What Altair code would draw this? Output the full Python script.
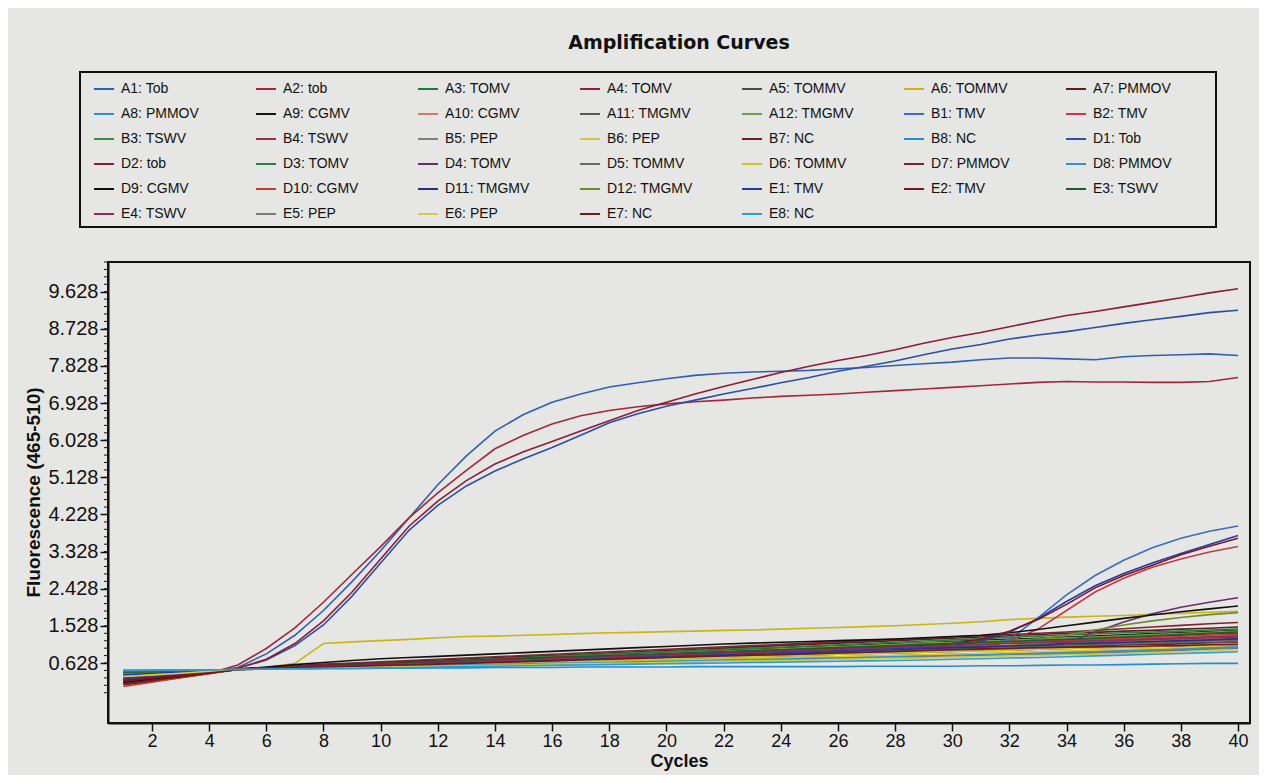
import altair as alt
import pandas as pd

cycles = list(range(1, 41))

series_names = [
    "A1: Tob", "A2: tob", "A3: TOMV", "A4: TOMV", "A5: TOMMV", "A6: TOMMV", "A7: PMMOV",
    "A8: PMMOV", "A9: CGMV", "A10: CGMV", "A11: TMGMV", "A12: TMGMV", "B1: TMV", "B2: TMV",
    "B3: TSWV", "B4: TSWV", "B5: PEP", "B6: PEP", "B7: NC", "B8: NC", "D1: Tob",
    "D2: tob", "D3: TOMV", "D4: TOMV", "D5: TOMMV", "D6: TOMMV", "D7: PMMOV", "D8: PMMOV",
    "D9: CGMV", "D10: CGMV", "D11: TMGMV", "D12: TMGMV", "E1: TMV", "E2: TMV", "E3: TSWV",
    "E4: TSWV", "E5: PEP", "E6: PEP", "E7: NC", "E8: NC",
]

series_colors = [
    "#2f5fb3", "#a3263a", "#1f7a3c", "#8e1f4c", "#4a4a4a", "#c9b514", "#5b1e1e",
    "#2c8fd0", "#151515", "#d27a6a", "#5a5a5a", "#7d9a3c", "#3b6cc0", "#c43848",
    "#3c8c4c", "#9c2d4e", "#808080", "#d6c43a", "#6e1c2c", "#1f8fcf", "#2c4ea6",
    "#8e1c36", "#2a7d3e", "#6b2c6e", "#686868", "#cbc22a", "#7d2433", "#2f95cc",
    "#101010", "#b9402c", "#2b2d7d", "#6c8b2c", "#1e3ea6", "#7c1424", "#1d5c2c",
    "#8c2c5e", "#7a7a7a", "#d3cb44", "#6c1c1c", "#2a9fd6",
]

A1 = [0.35,0.30,0.33,0.40,0.52,0.85,1.30,1.90,2.60,3.35,4.15,4.95,5.65,6.25,6.65,6.95,7.15,7.32,7.42,7.52,
      7.60,7.65,7.68,7.70,7.72,7.76,7.79,7.84,7.88,7.92,7.98,8.02,8.02,8.00,7.98,8.05,8.08,8.10,8.12,8.08]
A2 = [0.18,0.20,0.28,0.38,0.58,0.98,1.48,2.10,2.78,3.45,4.15,4.75,5.30,5.82,6.15,6.42,6.62,6.75,6.84,6.91,
      6.96,7.00,7.05,7.09,7.12,7.15,7.19,7.23,7.27,7.31,7.35,7.39,7.43,7.45,7.44,7.44,7.43,7.43,7.45,7.55]
A3 = [0.30,0.34,0.39,0.43,0.47,0.50,0.52,0.53,0.55,0.57,0.59,0.61,0.63,0.65,0.67,0.69,0.71,0.73,0.75,0.77,
      0.79,0.81,0.83,0.85,0.87,0.89,0.91,0.93,0.95,0.97,0.99,1.01,1.03,1.05,1.08,1.10,1.13,1.15,1.18,1.20]
A4 = [0.20,0.26,0.33,0.40,0.47,0.50,0.53,0.55,0.58,0.60,0.63,0.65,0.68,0.70,0.73,0.75,0.78,0.80,0.83,0.85,
      0.88,0.90,0.93,0.95,0.98,1.00,1.03,1.05,1.08,1.10,1.13,1.15,1.18,1.20,1.23,1.25,1.28,1.30,1.33,1.35]
A5 = [0.38,0.40,0.42,0.44,0.47,0.49,0.51,0.52,0.54,0.56,0.58,0.59,0.61,0.63,0.65,0.66,0.68,0.70,0.72,0.73,
      0.75,0.77,0.79,0.80,0.82,0.84,0.86,0.87,0.89,0.91,0.93,0.94,0.96,0.98,1.00,1.01,1.03,1.05,1.08,1.10]
A6 = [0.35,0.37,0.40,0.44,0.48,0.52,0.62,1.10,1.14,1.17,1.20,1.24,1.27,1.28,1.30,1.32,1.34,1.36,1.37,1.39,
      1.40,1.42,1.43,1.45,1.47,1.49,1.51,1.53,1.56,1.59,1.63,1.68,1.71,1.74,1.76,1.78,1.81,1.83,1.86,1.88]
A7 = [0.15,0.22,0.30,0.38,0.47,0.51,0.55,0.58,0.61,0.64,0.67,0.70,0.73,0.76,0.79,0.81,0.84,0.87,0.90,0.93,
      0.96,0.99,1.02,1.05,1.08,1.11,1.14,1.17,1.20,1.23,1.26,1.29,1.32,1.35,1.37,1.40,1.42,1.45,1.47,1.50]
A8 = [0.42,0.43,0.44,0.45,0.47,0.48,0.50,0.51,0.52,0.54,0.55,0.57,0.58,0.60,0.61,0.63,0.64,0.66,0.67,0.69,
      0.70,0.72,0.73,0.75,0.76,0.78,0.79,0.81,0.82,0.84,0.85,0.87,0.88,0.90,0.92,0.94,0.96,0.99,1.02,1.05]
A9 = [0.25,0.30,0.36,0.42,0.48,0.51,0.53,0.56,0.59,0.61,0.64,0.67,0.70,0.72,0.75,0.78,0.80,0.83,0.86,0.88,
      0.91,0.94,0.96,0.99,1.02,1.04,1.07,1.10,1.12,1.15,1.18,1.20,1.23,1.26,1.28,1.31,1.34,1.36,1.39,1.42]
A10 = [0.10,0.18,0.27,0.37,0.47,0.49,0.51,0.54,0.56,0.58,0.60,0.62,0.65,0.67,0.69,0.71,0.73,0.76,0.78,0.80,
       0.82,0.84,0.87,0.89,0.91,0.93,0.95,0.98,1.00,1.02,1.04,1.06,1.09,1.11,1.13,1.15,1.17,1.20,1.22,1.25]
A11 = [0.33,0.36,0.39,0.43,0.47,0.49,0.51,0.53,0.55,0.57,0.59,0.61,0.63,0.64,0.66,0.68,0.70,0.72,0.74,0.76,
       0.78,0.80,0.82,0.84,0.86,0.88,0.90,0.91,0.93,0.95,0.97,0.99,1.01,1.03,1.05,1.07,1.09,1.11,1.13,1.15]
A12 = [0.40,0.41,0.43,0.45,0.47,0.50,0.53,0.55,0.58,0.61,0.63,0.66,0.69,0.71,0.74,0.76,0.79,0.82,0.84,0.87,
       0.90,0.92,0.95,0.97,1.00,1.03,1.05,1.08,1.11,1.13,1.16,1.18,1.21,1.24,1.26,1.29,1.32,1.34,1.37,1.40]
B1 = [0.30,0.34,0.38,0.43,0.48,0.50,0.52,0.54,0.56,0.58,0.60,0.62,0.65,0.67,0.69,0.71,0.73,0.75,0.77,0.79,
      0.81,0.83,0.85,0.88,0.90,0.92,0.94,0.96,0.98,1.00,1.05,1.20,1.72,2.28,2.75,3.12,3.42,3.65,3.82,3.95]
B2 = [0.12,0.20,0.29,0.38,0.47,0.49,0.51,0.53,0.55,0.57,0.59,0.61,0.63,0.65,0.66,0.68,0.70,0.72,0.74,0.76,
      0.78,0.80,0.82,0.84,0.86,0.87,0.89,0.91,0.93,0.95,1.00,1.15,1.45,1.90,2.35,2.68,2.95,3.15,3.32,3.45]
B3 = [0.36,0.38,0.41,0.44,0.47,0.49,0.51,0.53,0.56,0.58,0.60,0.62,0.64,0.66,0.68,0.70,0.73,0.75,0.77,0.79,
      0.81,0.83,0.85,0.87,0.89,0.92,0.94,0.96,0.98,1.00,1.03,1.05,1.08,1.11,1.14,1.17,1.20,1.23,1.27,1.30]
B4 = [0.22,0.28,0.34,0.41,0.47,0.50,0.52,0.55,0.57,0.60,0.62,0.64,0.67,0.69,0.72,0.74,0.76,0.79,0.81,0.83,
      0.86,0.88,0.90,0.93,0.95,0.98,1.00,1.02,1.05,1.07,1.09,1.12,1.14,1.16,1.18,1.20,1.22,1.24,1.26,1.28]
B5 = [0.43,0.44,0.45,0.46,0.47,0.48,0.49,0.50,0.52,0.53,0.54,0.56,0.57,0.58,0.60,0.61,0.62,0.64,0.65,0.66,
      0.68,0.69,0.70,0.72,0.73,0.74,0.76,0.77,0.79,0.80,0.82,0.83,0.85,0.87,0.89,0.91,0.93,0.95,0.98,1.00]
B6 = [0.28,0.33,0.37,0.42,0.47,0.48,0.50,0.51,0.53,0.54,0.56,0.57,0.59,0.60,0.62,0.63,0.65,0.66,0.68,0.69,
      0.71,0.72,0.74,0.75,0.77,0.78,0.80,0.81,0.83,0.84,0.86,0.88,0.90,0.92,0.94,0.96,0.98,1.00,1.03,1.05]
B7 = [0.18,0.25,0.32,0.40,0.47,0.49,0.51,0.53,0.55,0.57,0.59,0.61,0.63,0.65,0.67,0.69,0.71,0.73,0.75,0.77,
      0.79,0.81,0.83,0.85,0.87,0.89,0.91,0.93,0.95,0.97,0.99,1.00,1.02,1.04,1.05,1.07,1.08,1.09,1.10,1.12]
B8 = [0.45,0.45,0.45,0.46,0.47,0.48,0.48,0.49,0.49,0.50,0.50,0.51,0.51,0.52,0.52,0.52,0.53,0.53,0.53,0.53,
      0.54,0.54,0.54,0.54,0.54,0.54,0.55,0.55,0.55,0.55,0.56,0.56,0.57,0.58,0.58,0.59,0.60,0.61,0.62,0.62]
D1 = [0.25,0.26,0.32,0.40,0.50,0.70,1.05,1.55,2.25,3.05,3.85,4.45,4.92,5.28,5.58,5.85,6.15,6.45,6.67,6.85,
      7.00,7.15,7.28,7.42,7.55,7.70,7.82,7.95,8.10,8.24,8.35,8.48,8.58,8.66,8.76,8.86,8.95,9.03,9.12,9.18]
D2 = [0.10,0.18,0.28,0.38,0.50,0.72,1.10,1.65,2.35,3.15,3.95,4.55,5.05,5.45,5.75,6.00,6.25,6.50,6.75,6.95,
      7.15,7.33,7.50,7.67,7.82,7.96,8.08,8.22,8.38,8.52,8.64,8.78,8.92,9.05,9.15,9.26,9.37,9.48,9.60,9.70]
D3 = [0.14,0.22,0.30,0.39,0.47,0.50,0.53,0.56,0.59,0.62,0.64,0.67,0.70,0.73,0.76,0.79,0.82,0.85,0.88,0.90,
      0.93,0.96,0.99,1.01,1.04,1.07,1.10,1.13,1.16,1.19,1.22,1.25,1.28,1.31,1.33,1.36,1.38,1.40,1.43,1.45]
D4 = [0.26,0.31,0.37,0.42,0.47,0.49,0.51,0.53,0.55,0.57,0.59,0.61,0.63,0.65,0.67,0.69,0.71,0.73,0.75,0.77,
      0.79,0.81,0.83,0.85,0.87,0.89,0.91,0.93,0.95,0.97,0.98,1.00,1.03,1.12,1.38,1.62,1.82,1.98,2.10,2.21]
D5 = [0.39,0.41,0.43,0.45,0.47,0.49,0.51,0.53,0.55,0.57,0.59,0.61,0.63,0.65,0.67,0.69,0.71,0.73,0.75,0.77,
      0.79,0.81,0.83,0.85,0.87,0.89,0.91,0.93,0.95,0.97,0.99,1.01,1.03,1.05,1.07,1.09,1.11,1.13,1.16,1.18]
D6 = [0.32,0.35,0.39,0.43,0.47,0.49,0.50,0.52,0.54,0.56,0.57,0.59,0.61,0.63,0.64,0.66,0.68,0.70,0.71,0.73,
      0.75,0.77,0.78,0.80,0.82,0.84,0.85,0.87,0.89,0.91,0.92,0.94,0.96,0.98,0.99,1.01,1.03,1.05,1.08,1.10]
D7 = [0.20,0.27,0.34,0.41,0.48,0.52,0.56,0.60,0.63,0.66,0.69,0.72,0.75,0.78,0.81,0.84,0.87,0.90,0.93,0.96,
      0.99,1.02,1.05,1.08,1.11,1.14,1.17,1.20,1.23,1.26,1.29,1.32,1.35,1.38,1.42,1.46,1.50,1.54,1.58,1.61]
D8 = [0.44,0.44,0.45,0.46,0.47,0.48,0.50,0.51,0.52,0.54,0.55,0.56,0.58,0.59,0.60,0.62,0.63,0.64,0.66,0.67,
      0.68,0.70,0.71,0.72,0.74,0.75,0.76,0.78,0.79,0.81,0.82,0.84,0.85,0.87,0.89,0.91,0.93,0.96,0.99,1.02]
D9 = [0.16,0.24,0.32,0.40,0.48,0.53,0.59,0.64,0.69,0.73,0.76,0.79,0.82,0.85,0.88,0.91,0.94,0.97,1.00,1.03,
      1.06,1.09,1.11,1.13,1.15,1.17,1.19,1.21,1.24,1.27,1.30,1.36,1.44,1.53,1.62,1.71,1.79,1.87,1.94,2.01]
D10 = [0.06,0.16,0.27,0.37,0.47,0.50,0.52,0.55,0.57,0.60,0.62,0.64,0.67,0.69,0.72,0.74,0.77,0.79,0.81,0.84,
       0.86,0.89,0.91,0.94,0.96,0.98,1.01,1.03,1.06,1.08,1.11,1.13,1.15,1.18,1.20,1.22,1.25,1.27,1.30,1.32]
D11 = [0.24,0.30,0.35,0.41,0.47,0.49,0.51,0.53,0.56,0.58,0.60,0.62,0.64,0.66,0.68,0.70,0.72,0.75,0.77,0.79,
       0.81,0.83,0.85,0.87,0.89,0.92,0.94,0.96,0.98,1.00,1.02,1.04,1.06,1.09,1.11,1.13,1.15,1.17,1.19,1.22]
D12 = [0.37,0.39,0.42,0.45,0.48,0.50,0.52,0.55,0.57,0.60,0.62,0.64,0.67,0.69,0.71,0.74,0.76,0.78,0.81,0.83,
       0.85,0.88,0.90,0.92,0.95,0.97,0.99,1.01,1.03,1.06,1.09,1.13,1.20,1.31,1.43,1.55,1.65,1.73,1.80,1.85]
E1 = [0.34,0.37,0.41,0.44,0.48,0.50,0.52,0.55,0.57,0.59,0.61,0.63,0.65,0.67,0.69,0.71,0.73,0.75,0.77,0.79,
      0.81,0.83,0.85,0.87,0.89,0.91,0.94,0.97,1.00,1.05,1.15,1.38,1.70,2.12,2.50,2.80,3.05,3.28,3.50,3.72]
E2 = [0.19,0.26,0.33,0.40,0.47,0.50,0.53,0.56,0.59,0.61,0.64,0.66,0.69,0.71,0.74,0.76,0.78,0.80,0.82,0.84,
      0.86,0.88,0.90,0.92,0.94,0.97,0.99,1.02,1.05,1.10,1.20,1.40,1.68,2.05,2.45,2.75,3.00,3.25,3.46,3.65]
E3 = [0.41,0.42,0.44,0.45,0.47,0.50,0.52,0.55,0.58,0.60,0.63,0.65,0.68,0.70,0.73,0.75,0.78,0.80,0.83,0.85,
      0.88,0.90,0.93,0.95,0.98,1.00,1.03,1.05,1.08,1.10,1.13,1.15,1.18,1.20,1.23,1.26,1.29,1.32,1.35,1.38]
E4 = [0.27,0.32,0.37,0.42,0.47,0.49,0.52,0.54,0.56,0.59,0.61,0.63,0.66,0.68,0.70,0.73,0.75,0.77,0.80,0.82,
      0.84,0.87,0.89,0.91,0.94,0.96,0.98,1.01,1.03,1.05,1.08,1.10,1.12,1.14,1.16,1.18,1.20,1.22,1.24,1.26]
E5 = [0.44,0.45,0.45,0.46,0.47,0.48,0.49,0.50,0.51,0.52,0.53,0.54,0.55,0.57,0.58,0.59,0.60,0.62,0.63,0.64,
      0.66,0.67,0.68,0.70,0.71,0.72,0.74,0.75,0.77,0.78,0.80,0.81,0.83,0.85,0.87,0.89,0.91,0.93,0.96,0.98]
E6 = [0.30,0.34,0.38,0.43,0.47,0.48,0.49,0.50,0.51,0.53,0.54,0.55,0.56,0.57,0.58,0.60,0.61,0.62,0.63,0.64,
      0.66,0.67,0.68,0.69,0.70,0.72,0.73,0.74,0.75,0.77,0.78,0.80,0.81,0.83,0.84,0.86,0.88,0.90,0.93,0.95]
E7 = [0.12,0.21,0.29,0.38,0.47,0.49,0.51,0.53,0.55,0.57,0.58,0.60,0.62,0.64,0.66,0.68,0.70,0.72,0.74,0.76,
      0.78,0.80,0.82,0.83,0.85,0.87,0.89,0.91,0.93,0.95,0.97,0.98,1.00,1.01,1.02,1.03,1.04,1.05,1.07,1.08]
E8 = [0.45,0.45,0.46,0.46,0.47,0.48,0.49,0.50,0.50,0.51,0.52,0.53,0.54,0.55,0.56,0.57,0.58,0.59,0.60,0.61,
      0.62,0.63,0.64,0.65,0.66,0.67,0.68,0.69,0.70,0.72,0.73,0.75,0.76,0.78,0.80,0.82,0.84,0.86,0.88,0.90]

series_values = [A1, A2, A3, A4, A5, A6, A7, A8, A9, A10, A11, A12,
                 B1, B2, B3, B4, B5, B6, B7, B8,
                 D1, D2, D3, D4, D5, D6, D7, D8, D9, D10, D11, D12,
                 E1, E2, E3, E4, E5, E6, E7, E8]

x_tick_labels = [2, 4, 6, 8, 10, 12, 14, 16, 18, 20, 22, 24, 26, 28, 30, 32, 34, 36, 38, 40]
y_tick_labels = [0.628, 1.528, 2.428, 3.328, 4.228, 5.128, 6.028, 6.928, 7.828, 8.728, 9.628]
y_minor_ticks = [round(-0.092 + 0.18 * i, 3) for i in range(59)]

rows = []
for name, vals in zip(series_names, series_values):
    for c, v in zip(cycles, vals):
        rows.append({"series": name, "cycle": c, "value": v})
df = pd.DataFrame(rows)
minor_df = pd.DataFrame({"tick": y_minor_ticks})

BG = "#e6e6e4"
FONT = "Liberation Sans"

x_scale = alt.Scale(domain=[0.46, 40.42], nice=False, zero=False)
y_scale = alt.Scale(domain=[-0.826, 10.348], nice=False, zero=False)

lines = alt.Chart(df).mark_line(strokeWidth=1.6).encode(
    x=alt.X("cycle:Q", scale=x_scale,
            axis=alt.Axis(values=x_tick_labels, title="Cycles", grid=False,
                          labelFontSize=18, labelFont=FONT, labelColor="#111",
                          tickSize=8, tickWidth=1.5, tickColor="#111",
                          domainColor="#111", domainWidth=2, labelPadding=1,
                          titleFont=FONT, titleFontSize=18, titleFontWeight="bold",
                          titleColor="#111", titleX=571, titleY=38,
                          titleBaseline="middle", titleAlign="center")),
    y=alt.Y("value:Q", scale=y_scale,
            axis=alt.Axis(values=y_tick_labels, format=".3f", title="Fluorescence (465-510)",
                          grid=False, labelFontSize=20, labelFont=FONT, labelColor="#111",
                          tickSize=8, tickWidth=1.5, tickColor="#111",
                          domainColor="#111", domainWidth=2, labelPadding=2,
                          titleFont=FONT, titleFontSize=19, titleFontWeight="bold",
                          titleColor="#111", titleX=-75, titleY=230,
                          titleAngle=-90, titleBaseline="middle", titleAlign="center")),
    color=alt.Color("series:N",
                    scale=alt.Scale(domain=series_names, range=series_colors),
                    sort=series_names,
                    legend=alt.Legend(
                        title=" ", titleOrient="right", titlePadding=38,
                        orient="none", legendX=-28, legendY=-190,
                        columns=7, direction="horizontal", gridAlign="all", symbolLimit=60,
                        symbolType="stroke", symbolSize=400, symbolStrokeWidth=2,
                        symbolOffset=7,
                        labelFont=FONT, labelFontSize=14, labelColor="#111",
                        labelOffset=6, labelLimit=200,
                        columnPadding=41, rowPadding=7, padding=6,
                        strokeColor="#111", fillColor=BG)),
)

minor = alt.Chart(minor_df).mark_rule(color="#111", strokeWidth=1).encode(
    y=alt.Y("tick:Q", scale=y_scale, axis=None),
    x=alt.value(-4),
    x2=alt.value(0),
)

chart = alt.layer(minor, lines).resolve_axis(y="independent").properties(
    width=1142,
    height=461,
    autosize=alt.AutoSizeParams(type="none"),
    padding={"left": 100, "top": 254, "right": 9, "bottom": 52},
    background=BG,
    title=alt.TitleParams("Amplification Curves", font="DejaVu Sans", fontSize=19,
                          fontWeight="bold", color="#111", anchor="middle",
                          offset=18),
).configure_view(stroke="#111", strokeWidth=2).configure_legend(strokeWidth=2)

chart.save("out.html", embed_options={"renderer": "svg", "actions": False})
